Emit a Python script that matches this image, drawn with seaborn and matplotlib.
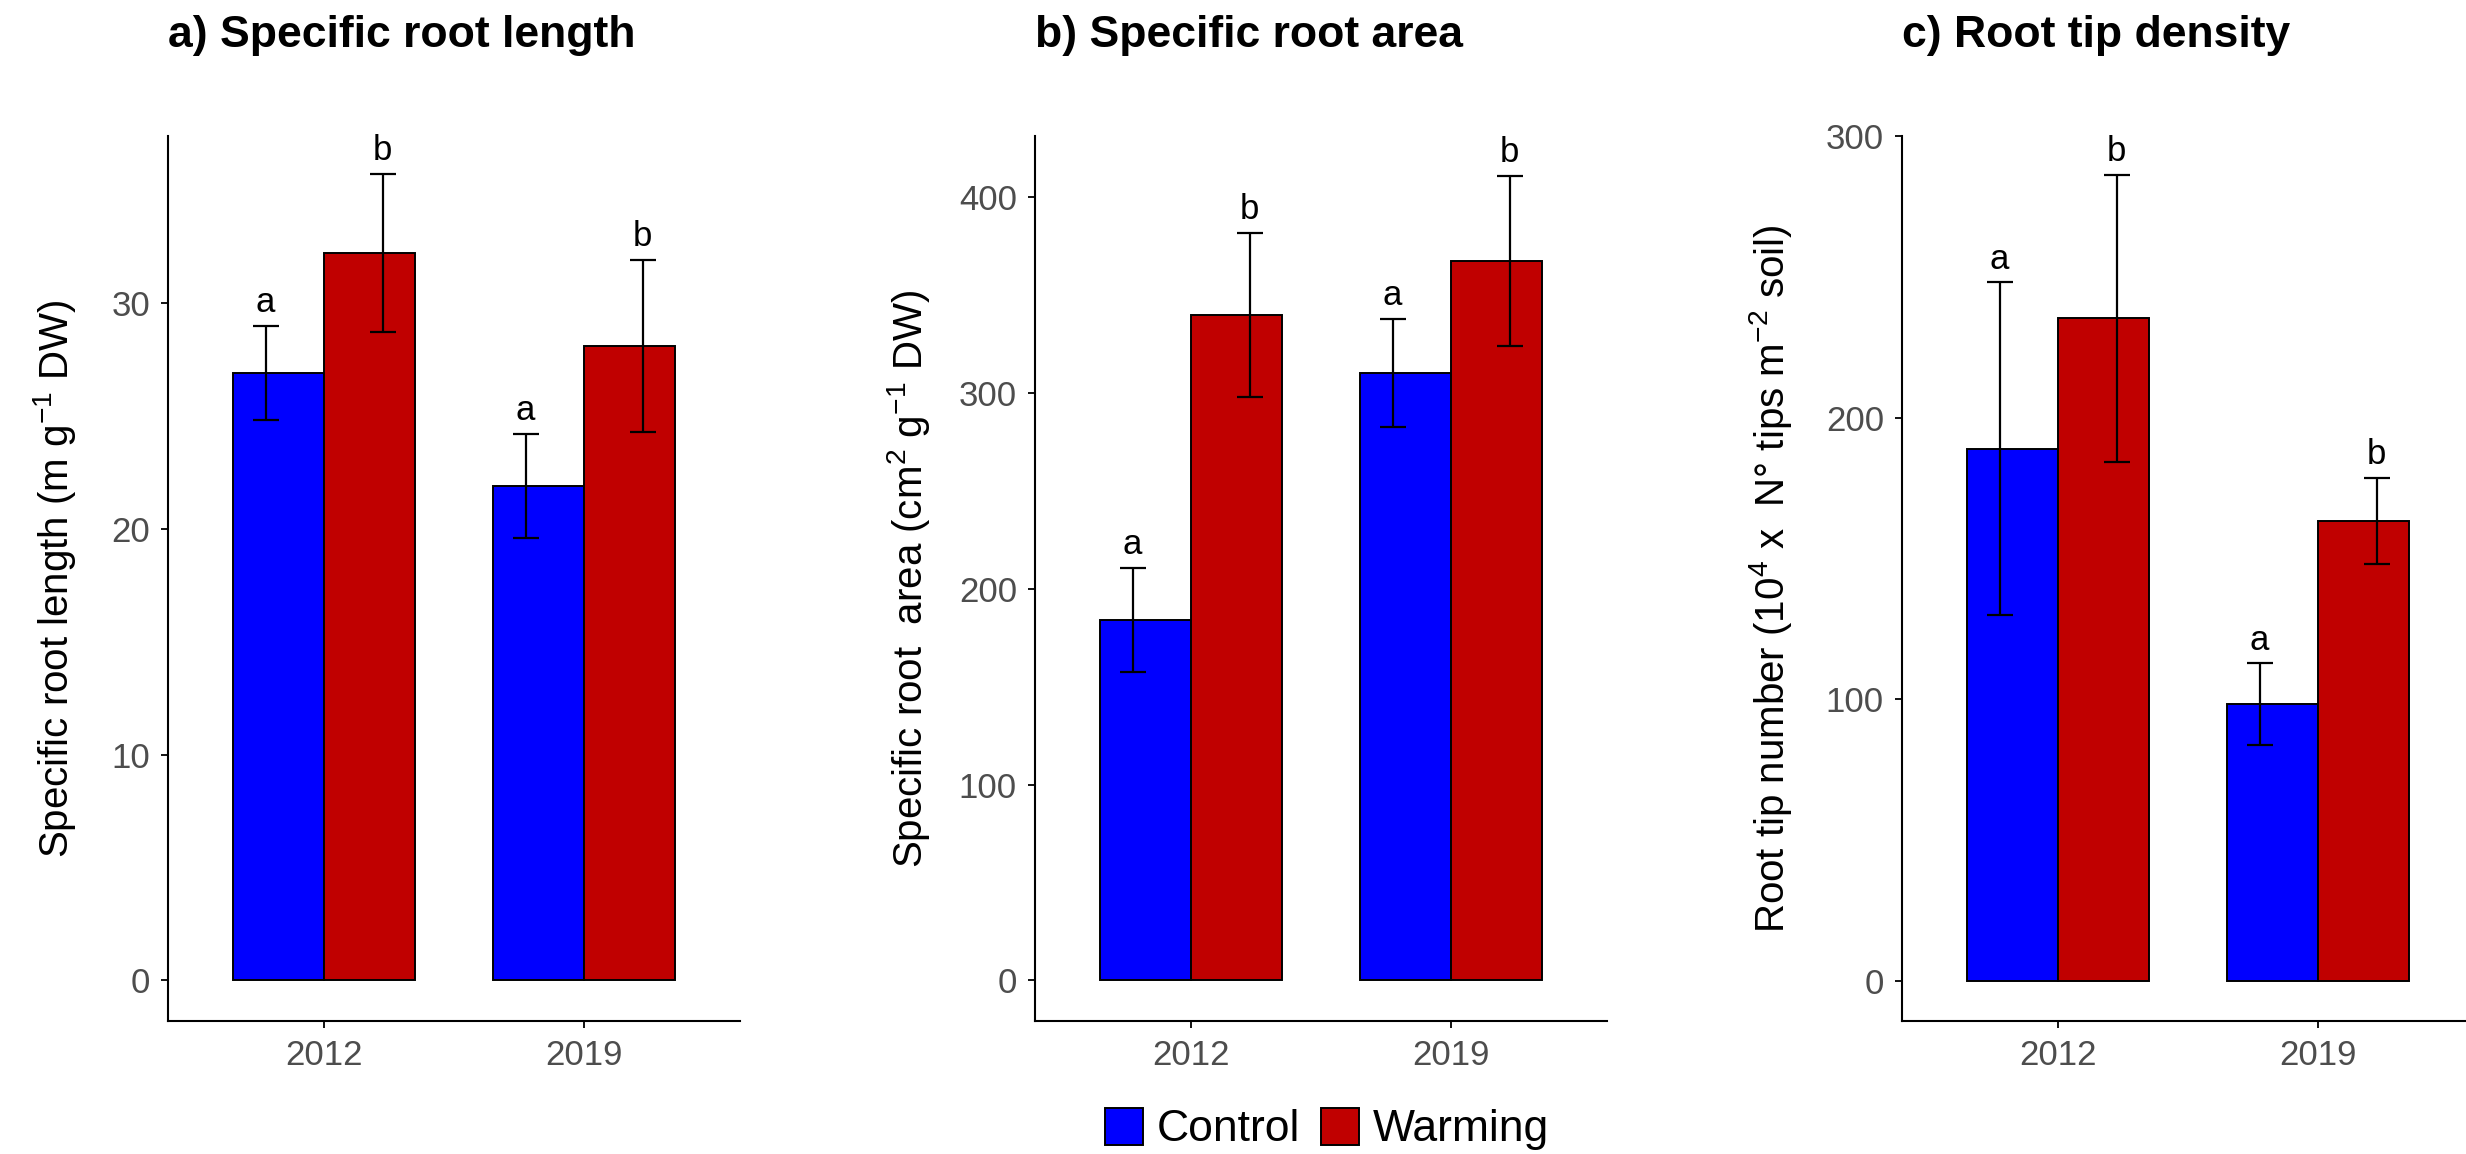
import matplotlib
matplotlib.use("Agg")
import matplotlib.pyplot as plt
import matplotlib.patches as mpatches
import seaborn as sns
import pandas as pd
import numpy as np

# ---------------- data ----------------
years = ["2012", "2019"]
treatments = ["Control", "Warming"]

srl_control = [26.9, 21.9]
srl_control_se = [2.1, 2.3]
srl_warming = [32.2, 28.1]
srl_warming_se = [3.5, 3.8]

sra_control = [184.0, 310.0]
sra_control_se = [26.7, 27.4]
sra_warming = [339.6, 367.2]
sra_warming_se = [41.7, 43.5]

rtd_control = [188.9, 98.2]
rtd_control_se = [59.1, 14.5]
rtd_warming = [235.2, 163.3]
rtd_warming_se = [51.0, 15.4]

letters_control = ["a", "a"]
letters_warming = ["b", "b"]

titles = ["a) Specific root length", "b) Specific root area", "c) Root tip density"]
ylabels = [
    r"Specific root length (m g$\mathregular{^{-1}}$ DW)",
    r"Specific root  area (cm$\mathregular{^{2}}$ g$\mathregular{^{-1}}$ DW)",
    r"Root tip number (10$\mathregular{^{4}}$ x  N° tips m$\mathregular{^{-2}}$ soil)",
]
yticks_list = [[0, 10, 20, 30], [0, 100, 200, 300, 400], [0, 100, 200, 300]]
ylims = [(-1.8, 37.4), (-20.7, 431), (-14.3, 300)]

colors = {"Control": "#0000FF", "Warming": "#C00000"}

panels = [
    (srl_control, srl_control_se, srl_warming, srl_warming_se),
    (sra_control, sra_control_se, sra_warming, sra_warming_se),
    (rtd_control, rtd_control_se, rtd_warming, rtd_warming_se),
]

# ---------------- style ----------------
sns.set_theme(style="ticks")
plt.rcParams["font.family"] = ["Liberation Sans", "DejaVu Sans"]
plt.rcParams["mathtext.fontset"] = "custom"
plt.rcParams["mathtext.rm"] = "Liberation Sans"
plt.rcParams["mathtext.it"] = "Liberation Sans:italic"
plt.rcParams["mathtext.bf"] = "Liberation Sans:bold"
plt.rcParams["text.color"] = "black"

W, H = 2466, 1154
fig = plt.figure(figsize=(W / 100, H / 100), dpi=100)

bottom = 1 - 1021 / H
height = 885 / H
width = 572 / W
lefts = [168 / W, 1035 / W, 1902 / W]
labelpads = [24, 19, 23]

tick_gray = "#4D4D4D"

for k, (c, cse, w, wse) in enumerate(panels):
    ax = fig.add_axes([lefts[k], bottom, width, height])
    df = pd.DataFrame({
        "Year": years * 2,
        "Treatment": ["Control"] * 2 + ["Warming"] * 2,
        "value": list(c) + list(w),
    })
    sns.barplot(data=df, x="Year", y="value", hue="Treatment",
                hue_order=treatments, order=years, palette=colors,
                width=0.7, saturation=1, edgecolor="black", linewidth=1.4,
                errorbar=None, legend=False, ax=ax)
    x = np.arange(len(years))
    for off, means, ses, lets in [(-0.225, c, cse, letters_control),
                                  (0.225, w, wse, letters_warming)]:
        ax.errorbar(x + off, means, yerr=ses, fmt="none", ecolor="black",
                    elinewidth=1.6, capsize=9.5, capthick=1.6, zorder=5)
        for xi, m, s, l in zip(x + off, means, ses, lets):
            ax.annotate(l, (xi, m + s), xytext=(0, 10), textcoords="offset points",
                        ha="center", va="baseline", fontsize=25, color="black")
    ax.set_xlim(-0.6, 1.6)
    ax.set_ylim(*ylims[k])
    ax.set_yticks(yticks_list[k])
    ax.set_xlabel("")
    ax.set_ylabel(ylabels[k], fontsize=29, color="black", labelpad=labelpads[k])
    ax.set_title(titles[k], loc="left", fontsize=32, fontweight="bold", pad=64,
                 color="black")
    sns.despine(ax=ax)
    for sp in ["left", "bottom"]:
        ax.spines[sp].set_linewidth(1.5)
        ax.spines[sp].set_color("black")
    ax.tick_params(axis="both", labelsize=25, colors=tick_gray, length=5,
                   width=1.3, pad=8)
    ax.tick_params(axis="both", color="black")

handles = [mpatches.Patch(facecolor=colors[t], edgecolor="black", linewidth=1.4, label=t)
           for t in treatments]
fig.legend(handles=handles, loc="center", bbox_to_anchor=(1327 / W, 1 - 1129 / H),
           ncol=2, frameon=False, fontsize=32, handlelength=0.86, handleheight=0.9,
           handletextpad=0.32, columnspacing=0.45, borderpad=0)

fig.savefig("out.png", dpi=100)
